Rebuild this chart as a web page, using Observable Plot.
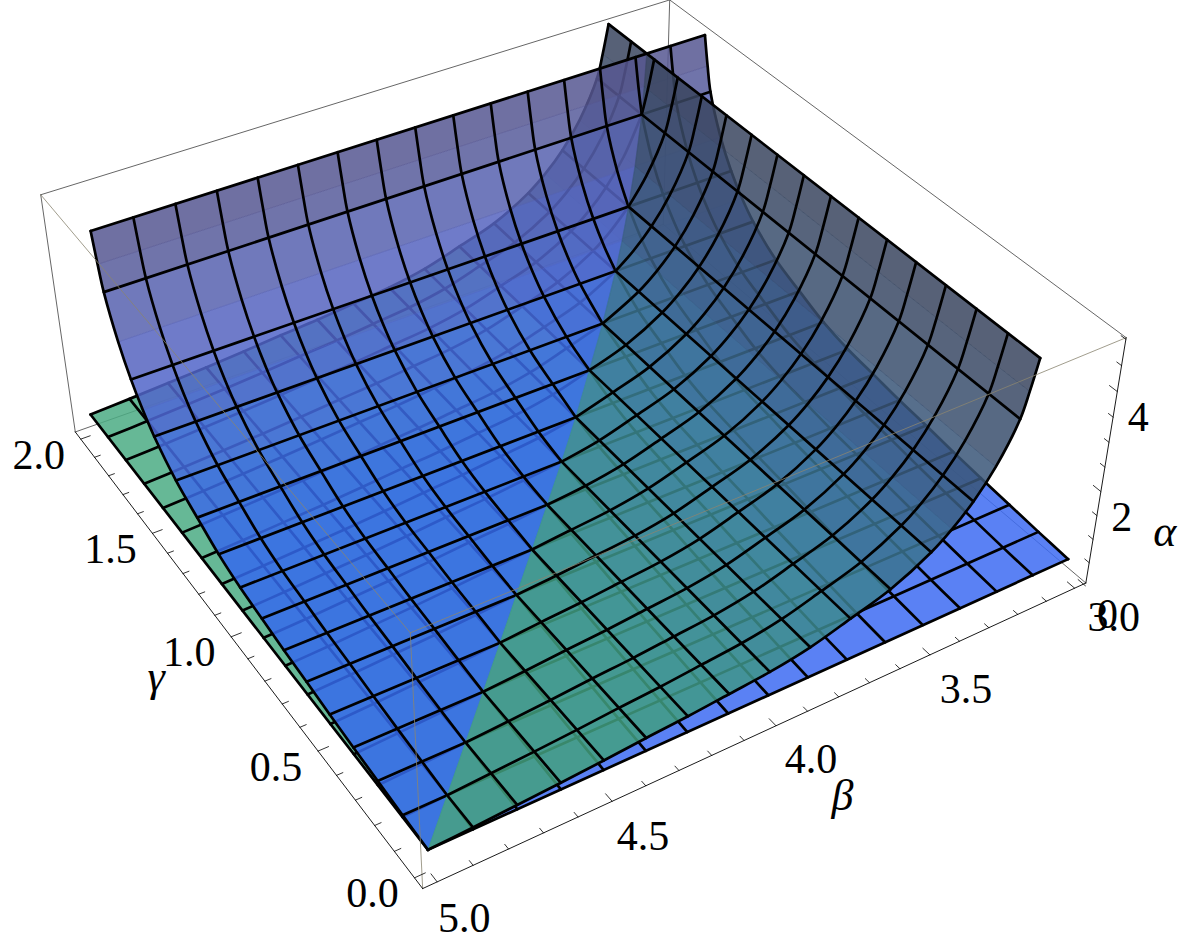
<!DOCTYPE html>
<html>
<head>
<meta charset="utf-8">
<style>html,body{margin:0;padding:0;background:#fff}svg{display:block}</style>
<script src="https://cdn.jsdelivr.net/npm/d3@7"></script>
<script src="https://cdn.jsdelivr.net/npm/@observablehq/plot@0.6"></script>
</head>
<body>
<script>
// ---- chart values -------------------------------------------------------
// Rows of the sheet that rises with gamma (alpha depends on gamma)
const gammaRows = [0,.125,.25,.375,.5,.625,.75,.875,1,1.125,1.25,1.375,1.5,1.5625,1.625,1.6875,1.75,1.77,1.79];
const alphaOnGamma = [.51,.55,.60,.65,.71,.78,.84,.92,1.0,1.14,1.37,1.62,2.03,2.33,2.72,3.25,4.02,4.5,5.08];
// Rows of the sheet that rises as beta falls
const betaRows = [5,4.875,4.75,4.625,4.5,4.375,4.25,4.125,4,3.875,3.75,3.625,3.5,3.4375,3.375,3.3125,3.25,3.23,3.21];
const alphaOnBeta = [.51,.55,.60,.65,.71,.78,.84,.92,1.0,1.14,1.37,1.62,2.03,2.33,2.72,3.25,4.02,4.5,5.08];
// Mesh positions, in steps of 1/8
const crossSteps = [0,1,2,3,4,5,6,7,8,9,10,11,12,13,14,15,16];
const meshRows = [0,1,2,3,4,5,6,7,8,9,10,11,12,14,16,18];
// Fill of each strip between two rows
const blueStrips = ["#356aed","#356aed","#356aed","#356aed","#356aed","#356aed","#356aed","#356aed","#356aed","#386bea","#3d6ce5","#466ce0","#4f68d6","#5266ca","#5664c0","#5862b0","#585c9c","#575892"];
const greenStrips = ["#43a07e","#43a07e","#43a07e","#43a07e","#42a080","#419e82","#409a86","#3f968a","#3e908c","#3d8a90","#3c8092","#3b7490","#3b688a","#3b5f82","#3a5678","#3a4f6e","#3a4a66","#3a4660"];
const lowerBlue = "#3e6cf3", lowerGreen = "#4cac84";
// Tick labels
const betaLabels = [5,4.5,4,3.5,3];
const betaLabelDx = [27,31,35,36,39];
const betaLabelDy = [36.5,35.5,33.5,34.5,29.5];
const gammaLabels = [0,.5,1,1.5,2];
const alphaLabels = [2,4];
const alphaZero = [0];
// Box limits and where its corners fall in the picture
const boxBeta = [5.04,2.96], boxGamma = [-.04,2.04], boxAlpha = [.06,5.03];
const boxPicture = [
  [5.04,-.04,.06,422,888],[2.96,-.04,.06,1085,583],[5.04,2.04,.06,75,432],[2.96,2.04,.06,663,223],
  [5.04,-.04,5.03,410,632],[2.96,-.04,5.03,1126,337],[5.04,2.04,5.03,40,194],[2.96,2.04,5.03,669,0]
];

// ---- camera fitted to the box ------------------------------------------
function fitCamera(pts){
  const A=Array.from({length:11},()=>new Array(12).fill(0));
  const add=(r,v)=>{for(let i=0;i<11;i++){for(let j=0;j<11;j++)A[i][j]+=r[i]*r[j];A[i][11]+=r[i]*v;}};
  for(const [b,g,a,x,y] of pts){
    add([b,g,a,1,0,0,0,0,-x*b,-x*g,-x*a],x);
    add([0,0,0,0,b,g,a,1,-y*b,-y*g,-y*a],y);
  }
  for(let c=0;c<11;c++){
    let p=c;for(let r=c+1;r<11;r++)if(Math.abs(A[r][c])>Math.abs(A[p][c]))p=r;
    [A[c],A[p]]=[A[p],A[c]];
    for(let r=0;r<11;r++){if(r===c)continue;const f=A[r][c]/A[c][c];for(let k=c;k<12;k++)A[r][k]-=f*A[c][k];}
  }
  return A.map((r,i)=>r[11]/r[i]);
}
const cam=fitCamera(boxPicture);
function project(b,g,a){
  const w=cam[8]*b+cam[9]*g+cam[10]*a+1;
  return {x:(cam[0]*b+cam[1]*g+cam[2]*a+cam[3])/w,y:(cam[4]*b+cam[5]*g+cam[6]*a+cam[7])/w};
}

// ---- sheets -------------------------------------------------------------
const kOf=n=>gammaRows[n]*8;
const ptA=(n,c)=>project(5-c/8,gammaRows[n],alphaOnGamma[n]);
const ptB=(n,c)=>project(betaRows[n],c/8,alphaOnBeta[n]);
function sheet(pt,colors,flatLower,name){
  const upperCells=[],lowerCells=[],upperLines=[],lowerLines=[];
  for(let n=0;n<gammaRows.length-1;n++){
    const k0=kOf(n),k1=kOf(n+1),color=colors[n];
    const up=[pt(n,0),pt(n,k0),pt(n+1,k1),pt(n+1,0)];
    const lo=[pt(n,k0),pt(n,16),pt(n+1,16),pt(n+1,k1)];
    up.forEach(p=>upperCells.push({...p,id:name+n,color}));
    lo.forEach(p=>lowerCells.push({...p,id:name+n,color:n<10?flatLower:color}));
  }
  for(const n of meshRows){
    const k=kOf(n);
    [pt(n,0),pt(n,k)].forEach(p=>upperLines.push({...p,id:name+"r"+n}));
    [pt(n,k),pt(n,16)].forEach(p=>lowerLines.push({...p,id:name+"r"+n}));
  }
  for(const c of crossSteps){
    gammaRows.forEach((_,n)=>{
      const k=kOf(n);
      if(k>=c-1e-6)upperLines.push({...pt(n,c),id:name+"c"+c});
      if(k<=c+1e-6)lowerLines.push({...pt(n,c),id:name+"c"+c});
    });
  }
  return {upperCells,lowerCells,upperLines,lowerLines};
}
const A=sheet(ptA,blueStrips,lowerBlue,"A");
const B=sheet(ptB,greenStrips,lowerGreen,"B");
const cellMark=d=>Plot.line(d,{x:"x",y:"y",z:"id",fill:"color",stroke:"color",strokeWidth:.7,curve:"linear-closed",opacity:.85});
const meshMark=d=>Plot.line(d,{x:"x",y:"y",z:"id",stroke:"#000",strokeWidth:2.7,curve:"catmull-rom"});

// ---- box and ticks -------------------------------------------------------
const seg=(p,q,id)=>[{...project(...p),id},{...project(...q),id}];
const [b0,b1]=boxBeta,[g0,g1]=boxGamma,[a0,a1]=boxAlpha;
const backBox=[
  ...seg([b1,g1,a1],[b0,g1,a1],"t1"),...seg([b1,g1,a1],[b1,g0,a1],"t2"),
  ...seg([b0,g1,a0],[b0,g1,a1],"v1"),...seg([b1,g1,a0],[b1,g1,a1],"v2"),
  ...seg([b0,g1,a0],[b1,g1,a0],"b1"),...seg([b1,g1,a0],[b1,g0,a0],"b2")];
const frontBox=[
  ...seg([b0,g1,a1],[b0,g0,a1],"f1"),...seg([b0,g0,a1],[b1,g0,a1],"f2"),
  ...seg([b0,g0,a0],[b0,g0,a1],"f3")];
const axes=[
  ...seg([b0,g0,a0],[b1,g0,a0],"x"),...seg([b0,g0,a0],[b0,g1,a0],"y"),...seg([b1,g0,a0],[b1,g0,a1],"z")];
const ticks=[];
d3.range(30,51).forEach(v=>{const t=v/10,l=v%5===0?.03:.018;ticks.push(...seg([t,g0,a0],[t,g0+l,a0],"bt"+v));});
d3.range(0,21).forEach(v=>{const t=v/10,l=v%5===0?.03:.018;ticks.push(...seg([b0,t,a0],[b0-l,t,a0],"gt"+v));});
d3.range(0,11).forEach(v=>{const t=v/2,l=v%4===0?.03:.018;if(t<a1)ticks.push(...seg([b1,g0,t],[b1,g0+l,t],"at"+v));});

const labelFont={fontFamily:"'Liberation Serif','Times New Roman',serif",fontSize:42,fill:"#000",stroke:"none",lineAnchor:"middle",textAnchor:"middle"};
const greekFont={...labelFont,fontSize:44,fontStyle:"italic"};
const betaText=betaLabels.map((v,i)=>{const p=project(v,g0,a0);return {x:p.x+betaLabelDx[i],y:p.y+betaLabelDy[i],t:v.toFixed(1)};});
const gammaText=gammaLabels.map(v=>({...project(b0,v,a0),t:v.toFixed(1)}));
const alphaText=alphaLabels.map(v=>({...project(b1,g0,v),t:String(v)}));
const zeroText=alphaZero.map(v=>({...project(b1,g0,v),t:String(v)}));

const chart=Plot.plot({
  width:1196,height:947,margin:0,
  x:{type:"linear",domain:[0,1196],range:[0,1196],axis:null},
  y:{type:"linear",domain:[0,947],range:[0,947],axis:null},
  color:{type:"identity"},
  style:{background:"#fff"},
  marks:[
    Plot.line(backBox,{x:"x",y:"y",z:"id",stroke:"#666",strokeWidth:1}),
    cellMark(A.lowerCells),meshMark(A.lowerLines),
    cellMark(B.lowerCells),meshMark(B.lowerLines),
    cellMark(A.upperCells),meshMark(A.upperLines),
    cellMark(B.upperCells),meshMark(B.upperLines),
    Plot.line(frontBox,{x:"x",y:"y",z:"id",stroke:"#8a8570",strokeWidth:1,strokeOpacity:.8}),
    Plot.line(axes,{x:"x",y:"y",z:"id",stroke:"#000",strokeWidth:.9}),
    Plot.line(ticks,{x:"x",y:"y",z:"id",stroke:"#000",strokeWidth:.8}),
    Plot.text(betaText,{x:"x",y:"y",text:"t",...labelFont}),
    Plot.text(gammaText,{x:"x",y:"y",text:"t",dx:-42,dy:16,...labelFont}),
    Plot.text(alphaText,{x:"x",y:"y",text:"t",dx:21,dy:26,...labelFont}),
    Plot.text(zeroText,{x:"x",y:"y",text:"t",dx:22,dy:29,...labelFont}),
    Plot.text([{...project(b1,g0,2),t:"α"}],{x:"x",y:"y",text:"t",dx:64,dy:40,...greekFont}),
    Plot.text([{...project(3.9,g0,a0),t:"β"}],{x:"x",y:"y",text:"t",dx:35,dy:85,...greekFont}),
    Plot.text([{...project(b0,1,a0),t:"γ"}],{x:"x",y:"y",text:"t",dx:-75,dy:40,...greekFont})
  ]
});
document.body.appendChild(chart);
</script>
</body>
</html>
